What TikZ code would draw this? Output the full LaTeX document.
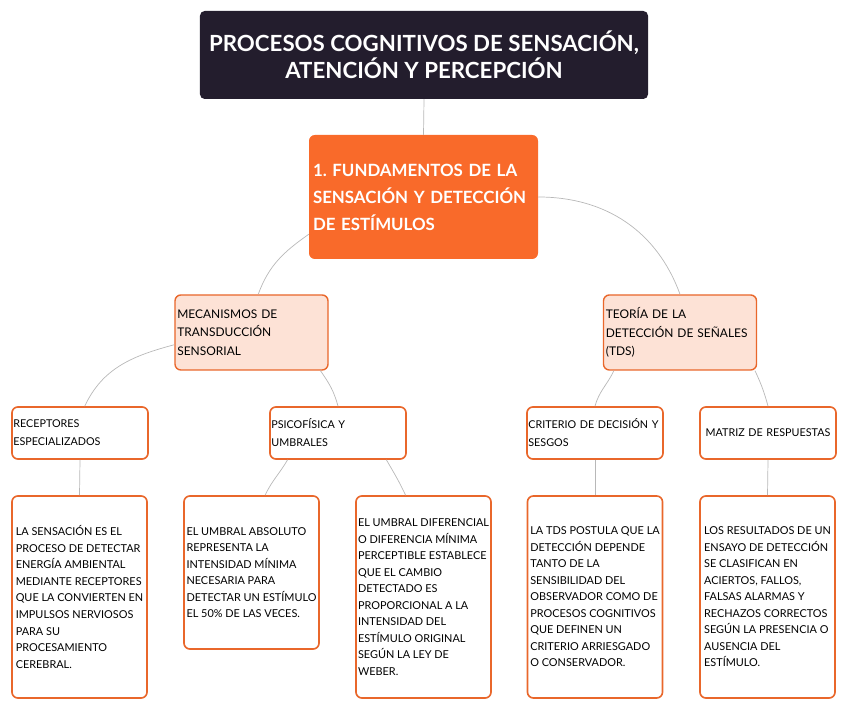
\documentclass[tikz,border=0pt]{standalone}
\usepackage{fontspec}
\setmainfont{Lato}
\definecolor{mapdark}{HTML}{231D2D}
\definecolor{maporange}{HTML}{F96A2A}
\definecolor{mappeach}{HTML}{FDE2D6}
\definecolor{mapline}{HTML}{E9672B}
\definecolor{maplink}{HTML}{B8B8B8}

\begin{document}
\frenchspacing
\begin{tikzpicture}[
  x=0.03cm, y=0.03cm,
  headbox/.style={fill=mapdark, rounded corners=4pt, text=white, align=center,
                  minimum width=13.44cm, minimum height=2.64cm,
                  font=\fontsize{19}{23}\selectfont\bfseries},
  topic/.style={fill=maporange, rounded corners=5pt, text=white, align=left,
                text width=6.63cm, inner xsep=0.12cm, minimum height=3.72cm,
                font=\fontsize{14.4}{23}\selectfont\bfseries},
  sub/.style={draw=mapline, line width=1.2pt, fill=mappeach, rounded corners=5pt,
              align=left, text width=4.45cm, inner xsep=0.07cm, minimum height=2.25cm,
              font=\fontsize{10.2}{15.7}\selectfont},
  leaf/.style={draw=mapline, line width=1.4pt, fill=white, rounded corners=5pt,
               align=left, text width=4cm, inner xsep=0.04cm, minimum height=1.56cm,
               font=\fontsize{9.2}{15.3}\selectfont},
  note/.style={draw=mapline, line width=1.4pt, fill=white, rounded corners=5pt,
               align=left, inner xsep=0pt, minimum width=4.05cm, minimum height=6.06cm,
               font=\fontsize{9.3}{14.1}\selectfont},
  link/.style={draw=maplink, line width=0.6pt}
]
\useasboundingbox (0,0) rectangle (848,712);

\node[headbox] (title) at (424,657) {PROCESOS COGNITIVOS DE SENSACIÓN,\\ATENCIÓN Y PERCEPCIÓN};
\node[topic] (fund) at (423.5,515) {1. FUNDAMENTOS DE LA\\SENSACIÓN Y DETECCIÓN\\DE ESTÍMULOS};

\node[sub] (mec) at (251.5,379.5) {MECANISMOS DE\\TRANSDUCCIÓN\\SENSORIAL};
\node[sub] (teo) at (680,379.5) {TEORÍA DE LA\\DETECCIÓN DE SEÑALES\\(TDS)};

\node[leaf] (rec)  at (80,279)  {RECEPTORES\\ESPECIALIZADOS};
\node[leaf] (psi)  at (338,279) {PSICOFÍSICA Y\\UMBRALES};
\node[leaf] (crit) at (595,279) {CRITERIO DE DECISIÓN Y\\SESGOS};
\node[leaf, align=center] (mat) at (768,279) {MATRIZ DE RESPUESTAS};

\node[note] (sens) at (79.5,115) {LA SENSACIÓN ES EL\\PROCESO DE DETECTAR\\ENERGÍA AMBIENTAL\\MEDIANTE RECEPTORES\\QUE LA CONVIERTEN EN\\IMPULSOS NERVIOSOS\\PARA SU\\PROCESAMIENTO\\CEREBRAL.};
\node[note, minimum height=4.59cm] (abs) at (251.5,139.5) {EL UMBRAL ABSOLUTO\\REPRESENTA LA\\INTENSIDAD MÍNIMA\\NECESARIA PARA\\DETECTAR UN ESTÍMULO\\EL 50\% DE LAS VECES.};
\node[note] (dif) at (423.5,115) {EL UMBRAL DIFERENCIAL\\O DIFERENCIA MÍNIMA\\PERCEPTIBLE ESTABLECE\\QUE EL CAMBIO\\DETECTADO ES\\PROPORCIONAL A LA\\INTENSIDAD DEL\\ESTÍMULO ORIGINAL\\SEGÚN LA LEY DE\\WEBER.};
\node[note] (tds) at (595,115) {LA TDS POSTULA QUE LA\\DETECCIÓN DEPENDE\\TANTO DE LA\\SENSIBILIDAD DEL\\OBSERVADOR COMO DE\\PROCESOS COGNITIVOS\\QUE DEFINEN UN\\CRITERIO ARRIESGADO\\O CONSERVADOR.};
\node[note] (res) at (767.5,115) {LOS RESULTADOS DE UN\\ENSAYO DE DETECCIÓN\\SE CLASIFICAN EN\\ACIERTOS, FALLOS,\\FALSAS ALARMAS Y\\RECHAZOS CORRECTOS\\SEGÚN LA PRESENCIA O\\AUSENCIA DEL\\ESTÍMULO.};

\draw[link] (title.south) -- (fund.north);
\draw[link] (fund.198) to[out=215, in=70] (mec.80);
\draw[link] (fund.east) to[out=0, in=110] (teo.north);
\draw[link] (mec.189) to[out=195, in=65] (rec.80);
\draw[link] (mec.331) to[out=-55, in=105] (psi.north);
\draw[link] (teo.210) to[out=245, in=75] (crit.north);
\draw[link] (teo.333) to[out=-65, in=105] (mat.north);
\draw[link] (rec.south) -- (sens.north);
\draw[link] (psi.208) to[out=240, in=65] (abs.80);
\draw[link] (psi.331) to[out=-60, in=115] (dif.100);
\draw[link] (crit.south) -- (tds.north);
\draw[link] (mat.south) -- (res.north);

\end{tikzpicture}
\end{document}
